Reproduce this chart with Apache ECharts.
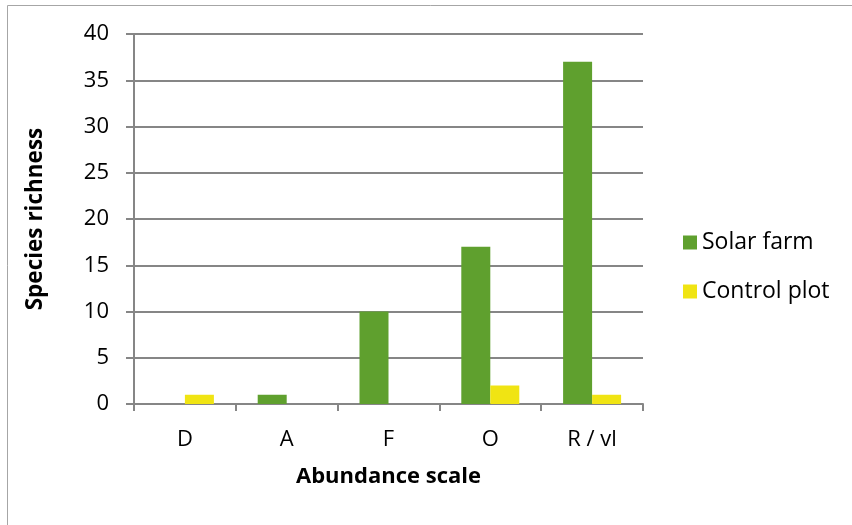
<!DOCTYPE html>
<html><head><meta charset="utf-8">
<script src="https://cdn.jsdelivr.net/npm/echarts@6/dist/echarts.min.js"></script>
<style>html,body{margin:0;padding:0;background:#fff}#c{width:852px;height:525px}</style>
</head><body><div id="c"></div>
<script>
const categories = ['D', 'A', 'F', 'O', 'R / vl'];
const solarFarm = [0, 1, 10, 17, 37];
const controlPlot = [1, 0, 0, 2, 1];
const yTicks = [0, 5, 10, 15, 20, 25, 30, 35, 40];

const font = '"Open Sans", "Noto Sans", sans-serif';
const chart = echarts.init(document.getElementById('c'), null, {renderer: 'canvas'});
chart.setOption({
  animation: false,
  backgroundColor: '#fff',
  textStyle: {fontFamily: font},
  graphic: [{
    type: 'rect', shape: {x: 7.5, y: 5.5, width: 900, height: 600},
    style: {fill: 'none', stroke: '#a6a6a6', lineWidth: 1}, silent: true
  }],
  grid: {left: 134, right: 209, top: 34, bottom: 121, containLabel: false},
  legend: {
    orient: 'vertical', left: 683, top: 231, padding: 0, itemGap: 26, itemWidth: 14, itemHeight: 14,
    icon: 'rect',
    textStyle: {fontFamily: font, fontSize: 23, color: '#000', padding: [0, 0, 0, 0]},
    data: ['Solar farm', 'Control plot']
  },
  xAxis: {
    type: 'category', data: categories,
    name: 'Abundance scale', nameLocation: 'middle', nameGap: 62,
    nameTextStyle: {fontFamily: font, fontSize: 22, fontWeight: 'bold', color: '#000'},
    axisLine: {lineStyle: {color: '#868686', width: 2}},
    axisTick: {show: true, length: 7, lineStyle: {color: '#868686', width: 2}},
    axisLabel: {fontFamily: font, fontSize: 22, color: '#000', margin: 25},
    splitLine: {show: false}
  },
  yAxis: {
    type: 'value', min: 0, max: 40, interval: 5,
    name: 'Species richness', nameLocation: 'middle', nameGap: 87, nameRotate: 90,
    nameTextStyle: {fontFamily: font, fontSize: 22.5, fontWeight: 'bold', color: '#000'},
    axisLine: {show: true, lineStyle: {color: '#868686', width: 2}},
    axisTick: {show: true, length: 8, lineStyle: {color: '#868686', width: 2}},
    axisLabel: {fontFamily: font, fontSize: 22, color: '#000', margin: 25,
      formatter: v => yTicks.includes(v) ? String(v) : ''},
    splitLine: {show: true, lineStyle: {color: '#868686', width: 2}}
  },
  series: [
    {name: 'Solar farm', type: 'bar', data: solarFarm, barWidth: 29, barGap: '0%',
      itemStyle: {color: '#5fa02e'}},
    {name: 'Control plot', type: 'bar', data: controlPlot, barWidth: 29,
      itemStyle: {color: '#f0e413'}}
  ]
});
</script></body></html>
